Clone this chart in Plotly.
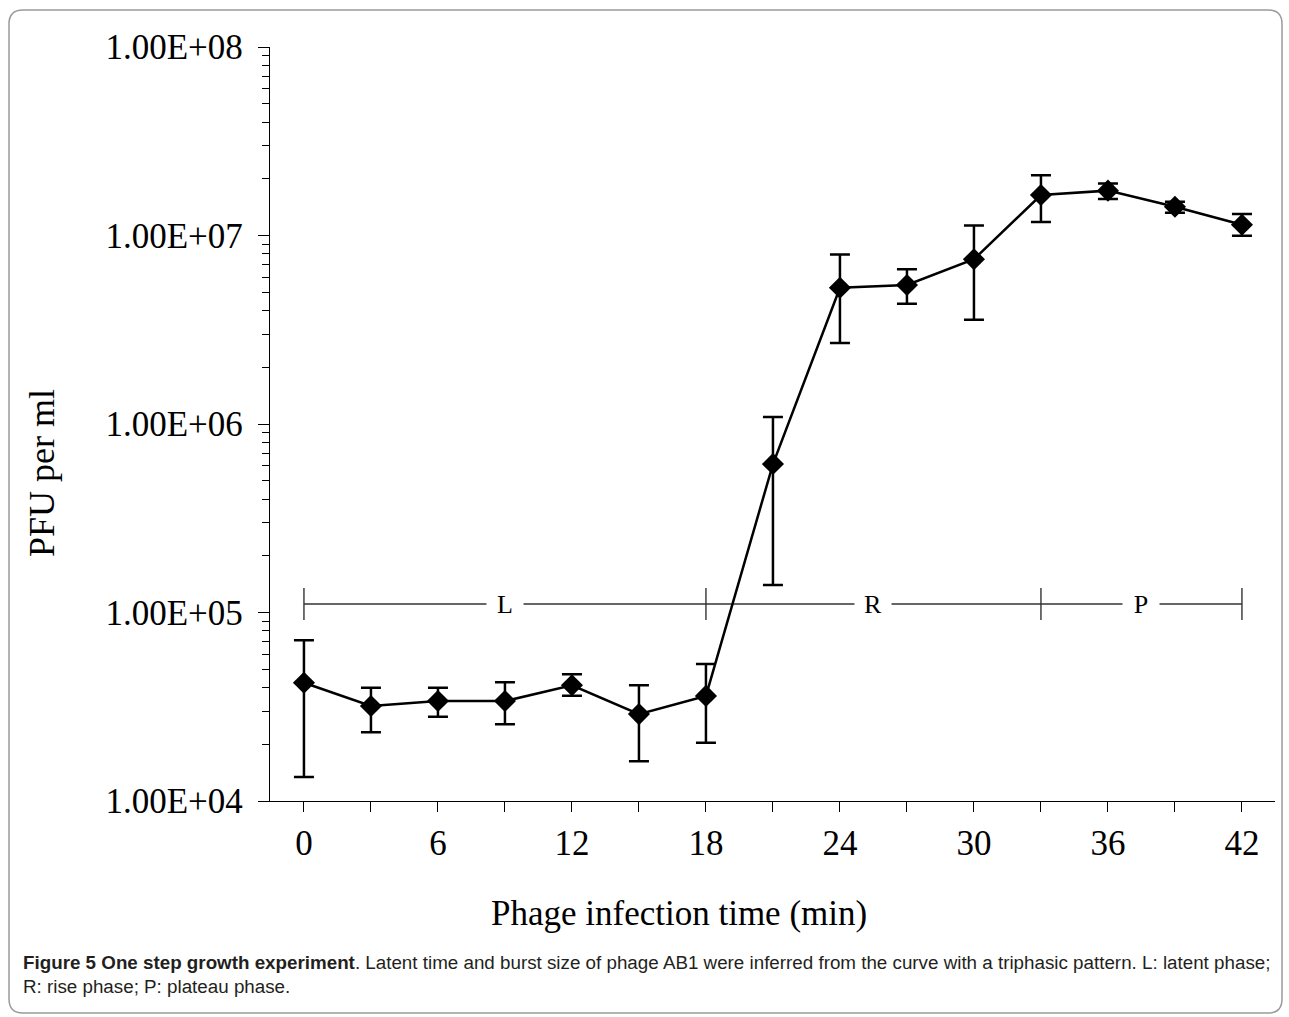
import math
import plotly.graph_objects as go

# ---- data ----
time_min = [0, 3, 6, 9, 12, 15, 18, 21, 24, 27, 30, 33, 36, 39, 42]
pfu = [42400, 31900, 33900, 33900, 41100, 28900, 36100,
       613000, 5280000, 5460000, 7480000, 16400000, 17300000, 14200000, 11400000]
err_upper = [71200, 39900, 39900, 42600, 47000, 41100, 53300,
             1090000, 7940000, 6620000, 11300000, 20900000, 18900000, 15100000, 13000000]
err_lower = [13400, 23150, 28000, 25500, 36200, 16250, 20400,
             140000, 2690000, 4350000, 3570000, 11800000, 15600000, 13200000, 9980000]

phase_bounds = [0, 18, 33, 42]
phase_labels = ["L", "R", "P"]
phase_level = 111000
phase_tick_lo = 91200
phase_tick_hi = 134900

y_tickvals = [1e4, 1e5, 1e6, 1e7, 1e8]
y_ticktext = ["1.00E+04", "1.00E+05", "1.00E+06", "1.00E+07", "1.00E+08"]

caption = ("<b>Figure 5 One step growth experiment</b>. Latent time and burst size of phage AB1 were "
           "inferred from the curve with a triphasic pattern. L: latent phase;<br>"
           "R: rise phase; P: plateau phase.")

# ---- layout geometry (pixels) ----
W, H = 1289, 1017
L_, R_, T_, B_ = 270, 14, 47, 216
PW = W - L_ - R_
PH = H - T_ - B_


def px2x(px):
    return (px - L_) / PW


def px2y(py):
    return (H - B_ - py) / PH


SERIF = "Liberation Serif, Times New Roman, serif"

plus = [u - v for u, v in zip(err_upper, pfu)]
minus = [v - d for v, d in zip(pfu, err_lower)]

fig = go.Figure()

# phase bar
fig.add_trace(go.Scatter(
    x=[phase_bounds[0], phase_bounds[-1]], y=[phase_level, phase_level],
    mode="lines", line=dict(color="#333333", width=1.4),
    hoverinfo="skip", showlegend=False))
tx, ty = [], []
for b in phase_bounds:
    tx += [b, b, None]
    ty += [phase_tick_lo, phase_tick_hi, None]
fig.add_trace(go.Scatter(
    x=tx, y=ty, mode="lines", line=dict(color="#333333", width=1.4),
    hoverinfo="skip", showlegend=False))

# main series
fig.add_trace(go.Scatter(
    x=time_min, y=pfu, mode="lines+markers",
    line=dict(color="black", width=2.5),
    marker=dict(symbol="diamond", size=17, color="black"),
    error_y=dict(type="data", symmetric=False, array=plus, arrayminus=minus,
                 color="black", thickness=2.5, width=10),
    showlegend=False))

annotations = []
for i, lab in enumerate(phase_labels):
    mid = (phase_bounds[i] + phase_bounds[i + 1]) / 2
    annotations.append(dict(
        x=mid, y=math.log10(phase_level), xref="x", yref="y", text=lab,
        showarrow=False, bgcolor="white", width=36, height=30, borderpad=0,
        font=dict(family=SERIF, size=26, color="black")))

annotations.append(dict(
    x=px2x(42), y=px2y(473), xref="paper", yref="paper", text="PFU per ml",
    textangle=-90, showarrow=False, xanchor="center", yanchor="middle",
    font=dict(family=SERIF, size=36, color="black")))
annotations.append(dict(
    x=px2x(679), y=px2y(913), xref="paper", yref="paper",
    text="Phage infection time (min)", showarrow=False,
    xanchor="center", yanchor="middle",
    font=dict(family=SERIF, size=35, color="black")))
annotations.append(dict(
    x=px2x(21), y=px2y(950), xref="paper", yref="paper", text=caption,
    showarrow=False, xanchor="left", yanchor="top", align="left",
    font=dict(family="Liberation Sans, Arial, sans-serif",
              size=18.8, color="#231f20")))

# rounded border
x0, y0, x1, y1, r = 9, 10, 1282, 1013, 14
pts = [
    ("M", (x0 + r, y0)), ("L", (x1 - r, y0)), ("Q", (x1, y0), (x1, y0 + r)),
    ("L", (x1, y1 - r)), ("Q", (x1, y1), (x1 - r, y1)), ("L", (x0 + r, y1)),
    ("Q", (x0, y1), (x0, y1 - r)), ("L", (x0, y0 + r)), ("Q", (x0, y0), (x0 + r, y0)),
]
path = ""
for item in pts:
    cmd = item[0]
    coords = " ".join(f"{px2x(p[0]):.5f},{px2y(p[1]):.5f}" for p in item[1:])
    path += f"{cmd} {coords} "
path += "Z"

fig.update_layout(
    width=W, height=H,
    margin=dict(l=L_, r=R_, t=T_, b=B_, pad=0),
    paper_bgcolor="white", plot_bgcolor="white",
    annotations=annotations,
    shapes=[dict(type="path", path=path, xref="paper", yref="paper",
                 line=dict(color="#9a9a9a", width=1.5), layer="below")],
    xaxis=dict(
        range=[-1.52, 43.48], tickmode="linear", tick0=0, dtick=6,
        showline=True, linecolor="black", linewidth=1.3, showgrid=False, zeroline=False,
        ticks="outside", ticklen=10, tickwidth=1.3, tickcolor="black",
        ticklabelstandoff=1,
        minor=dict(ticks="outside", dtick=3, tick0=0, ticklen=10, tickwidth=1.3,
                   tickcolor="black", showgrid=False),
        tickfont=dict(family=SERIF, size=35, color="black")),
    yaxis=dict(
        type="log", range=[4, 8], tickmode="array", tickvals=y_tickvals, ticktext=y_ticktext,
        showline=True, linecolor="black", linewidth=1.3, showgrid=False, zeroline=False,
        ticks="outside", ticklen=11, tickwidth=1.3, tickcolor="black",
        ticklabelstandoff=8,
        minor=dict(ticks="outside", dtick="D1", ticklen=7, tickwidth=1.2,
                   tickcolor="black", showgrid=False),
        tickfont=dict(family=SERIF, size=35, color="black")),
)

fig.write_html("out.html")
